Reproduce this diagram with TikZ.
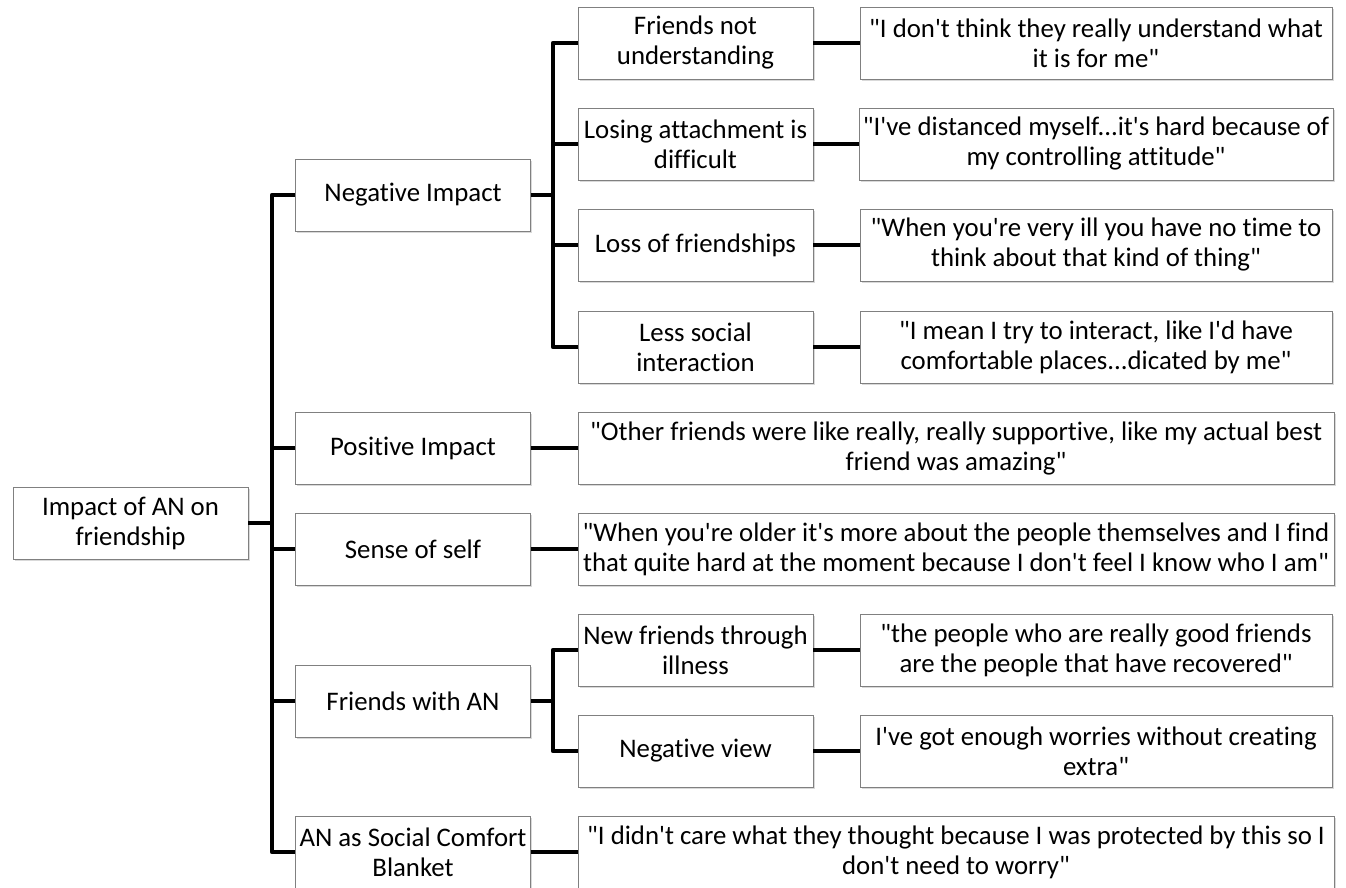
\documentclass[tikz,border=0pt]{standalone}
\usepackage{fontspec}
\setmainfont{Carlito}[Ligatures={TeXOff,CommonOff}]
\usetikzlibrary{shadows}
\begin{document}
\begin{tikzpicture}[x=0.5pt,y=-0.5pt]
\tikzset{box/.style={draw=black!50,fill=white,align=center,inner sep=2pt,
    minimum height=36pt,font=\fontsize{13.4}{15}\selectfont,
    drop shadow={opacity=0.3,shadow xshift=0.8pt,shadow yshift=-1.2pt}},
  topic/.style={box,minimum width=117.5pt},
  quote/.style={box,minimum width=236pt},
  longquote/.style={box,minimum width=378pt},
  link/.style={line width=2.4pt,line join=round}}
\useasboundingbox (0,0) rectangle (1346,888);
% The graphic
\node[topic] (root) at (130.5,523) {Impact of AN on\\friendship};
%%% first level
\node[topic] (neg) at (413,195) {Negative Impact};
\node[topic] (pos) at (413,448) {Positive Impact};
\node[topic] (self) at (413,549) {Sense of self};
\node[topic] (fwan) at (413,701) {Friends with AN};
\node[topic] (blanket) at (413,852) {AN as Social Comfort\\Blanket};
%%% second level
\node[topic] (fnu) at (695.5,43) {Friends not\\understanding};
\node[topic] (lad) at (695.5,144) {Losing attachment is\\difficult};
\node[topic] (lof) at (695.5,245) {Loss of friendships};
\node[topic] (lsi) at (695.5,347) {Less social\\interaction};
\node[topic] (nfi) at (695.5,650) {New friends through\\illness};
\node[topic] (nv) at (695.5,751) {Negative view};
%%% quotes
\node[quote] (qfnu) at (1096,43) {"I don't think they really understand what\\it is for me"};
\node[quote] (qlad) at (1096,144) {"I've distanced myself...it's hard because of\\my controlling attitude"};
\node[quote] (qlof) at (1096,245) {"When you're very ill you have no time to\\think about that kind of thing"};
\node[quote] (qlsi) at (1096,347) {"I mean I try to interact, like I'd have\\comfortable places...dicated by me"};
\node[quote] (qnfi) at (1096,650) {"the people who are really good friends\\are the people that have recovered"};
\node[quote] (qnv) at (1096,751) {I've got enough worries without creating\\extra"};
\node[longquote] (qpos) at (956,448) {"Other friends were like really, really supportive, like my actual best\\friend was amazing"};
\node[longquote] (qself) at (956,549) {"When you're older it's more about the people themselves and I find\\that quite hard at the moment because I don't feel I know who I am"};
\node[longquote] (qblanket) at (956,852) {"I didn't care what they thought because I was protected by this so I\\don't need to worry"};
%%% connectors
\coordinate (trunk) at (272,0);
\coordinate (fork) at (553,0);
\draw[link] (neg.west) -- (neg.west -| trunk) -- (blanket.west -| trunk) -- (blanket.west);
\draw[link] (root.east) -- (root.east -| trunk);
\foreach \n in {pos,self,fwan}
  \draw[link] (\n.west) -- (\n.west -| trunk);
\draw[link] (fnu.west) -- (fnu.west -| fork) -- (lsi.west -| fork) -- (lsi.west);
\draw[link] (nfi.west) -- (nfi.west -| fork) -- (nv.west -| fork) -- (nv.west);
\foreach \n in {lad,lof,neg.east,fwan.east}
  \draw[link] (\n) -- (\n -| fork);
\foreach \a/\b in {fnu/qfnu,lad/qlad,lof/qlof,lsi/qlsi,nfi/qnfi,nv/qnv,pos/qpos,self/qself,blanket/qblanket}
  \draw[link] (\a) -- (\b);
\end{tikzpicture}
\end{document}
